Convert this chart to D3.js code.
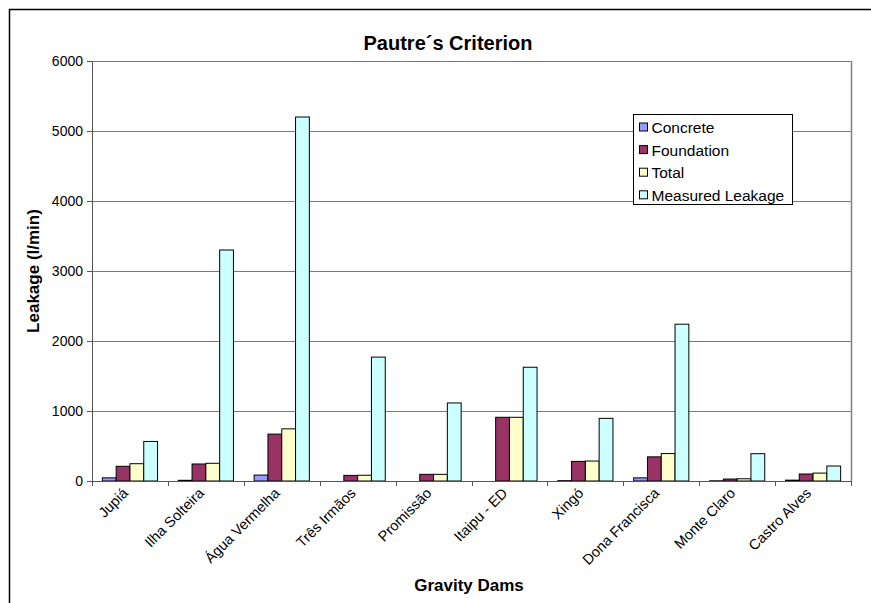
<!DOCTYPE html>
<html>
<head>
<meta charset="utf-8">
<script src="https://cdn.jsdelivr.net/npm/d3@7"></script>
<style>
  html, body { margin: 0; padding: 0; background: #fff; }
  svg { display: block; font-family: "Liberation Sans", Arial, sans-serif; }
</style>
</head>
<body>
<svg id="chart" width="871" height="603"></svg>
<script>
// Gravity dams and their leakage estimates (l/min)
const dams = ["Jupiá", "Ilha Solteira", "Água Vermelha", "Três Irmãos", "Promissão",
              "Itaipu - ED", "Xingó", "Dona Francisca", "Monte Claro", "Castro Alves"];
const seriesNames = ["Concrete", "Foundation", "Total", "Measured Leakage"];
const concrete   = [45, 10, 85, 0, 0, 0, 5, 45, 3, 12];
const foundation = [210, 243, 670, 80, 95, 910, 280, 345, 28, 100];
const total      = [247, 253, 745, 82, 95, 910, 285, 392, 32, 113];
const measured   = [565, 3300, 5200, 1770, 1115, 1625, 895, 2240, 390, 214];
const yTicks = [0, 1000, 2000, 3000, 4000, 5000, 6000];
const colors = ["#9999FF", "#993366", "#FFFFCC", "#CCFFFF"];

const series = [concrete, foundation, total, measured];

const svg = d3.select("#chart");
const plot = { left: 92, right: 851, top: 61, bottom: 481 };

// Outer chart frame
svg.append("rect")
  .attr("x", 9.5).attr("y", 9.5)
  .attr("width", 900).attr("height", 640)
  .attr("fill", "#fff").attr("stroke", "#000").attr("stroke-width", 1.5);

const x0 = d3.scaleBand().domain(dams).range([plot.left, plot.right]).paddingInner(0).paddingOuter(0);
// Gap between clusters equals 1.5 bar widths
const bw = x0.bandwidth() / 5.5;
const x1 = d3.scaleBand().domain(seriesNames)
  .range([bw * 0.75, bw * 4.75]).padding(0);
const y = d3.scaleLinear().domain([0, 6000]).range([plot.bottom, plot.top]);

// Horizontal gridlines
svg.append("g").selectAll("line")
  .data(yTicks.filter(d => d > 0))
  .join("line")
  .attr("x1", plot.left).attr("x2", plot.right)
  .attr("y1", d => Math.round(y(d)) + 0.5).attr("y2", d => Math.round(y(d)) + 0.5)
  .attr("stroke", "#7a7a7a").attr("stroke-width", 1.2);

// Right border of plot area
svg.append("line")
  .attr("x1", plot.right + 0.5).attr("x2", plot.right + 0.5)
  .attr("y1", plot.top).attr("y2", plot.bottom)
  .attr("stroke", "#808080").attr("stroke-width", 1.5);

// Bars
const groups = svg.append("g").selectAll("g")
  .data(dams)
  .join("g")
  .attr("transform", d => `translate(${x0(d)},0)`);

groups.selectAll("rect")
  .data((d, i) => series.map((s, k) => ({ key: seriesNames[k], value: s[i], k })))
  .join("rect")
  .attr("x", d => x1(d.key))
  .attr("width", x1.bandwidth())
  .attr("y", d => y(d.value))
  .attr("height", d => y(0) - y(d.value))
  .attr("fill", d => colors[d.k])
  .attr("stroke", "#000")
  .attr("stroke-width", d => d.value > 0 ? 1 : 0);

// Y axis
const yAxis = d3.axisLeft(y).tickValues(yTicks).tickSize(5).tickPadding(4).tickFormat(d3.format("d"));
const gy = svg.append("g").attr("transform", `translate(${plot.left},0)`).call(yAxis);
gy.select(".domain").attr("stroke", "#555");
gy.selectAll(".tick line").attr("stroke", "#555");
gy.selectAll(".tick text").attr("font-size", 14).attr("fill", "#000")
  .attr("font-family", "Liberation Sans, Arial, sans-serif");

// X axis with ticks at category boundaries
const gx = svg.append("g").attr("transform", `translate(0,${plot.bottom})`);
gx.append("line").attr("x1", plot.left).attr("x2", plot.right + 1)
  .attr("y1", 0.5).attr("y2", 0.5).attr("stroke", "#555");
gx.selectAll("line.tk")
  .data(d3.range(dams.length + 1))
  .join("line").attr("class", "tk")
  .attr("x1", i => Math.round(plot.left + i * x0.bandwidth()) + 0.5)
  .attr("x2", i => Math.round(plot.left + i * x0.bandwidth()) + 0.5)
  .attr("y1", 0).attr("y2", 5).attr("stroke", "#555");
gx.selectAll("text")
  .data(dams)
  .join("text")
  .attr("transform", d => `translate(${x0(d) + x0.bandwidth() / 2 - 1},${13}) rotate(-45)`)
  .attr("text-anchor", "end")
  .attr("font-size", 14.5)
  .text(d => d);

// Titles
svg.append("text").attr("x", 448).attr("y", 50)
  .attr("text-anchor", "middle").attr("font-weight", "bold").attr("font-size", 20)
  .text("Pautre´s Criterion");
svg.append("text").attr("x", 469).attr("y", 591)
  .attr("text-anchor", "middle").attr("font-weight", "bold").attr("font-size", 17)
  .text("Gravity Dams");
svg.append("text")
  .attr("transform", `translate(39,${(plot.top + plot.bottom) / 2}) rotate(-90)`)
  .attr("text-anchor", "middle").attr("font-weight", "bold").attr("font-size", 17)
  .text("Leakage (l/min)");

// Legend
const lg = svg.append("g").attr("transform", "translate(633.5,114.5)");
lg.append("rect").attr("width", 159).attr("height", 90)
  .attr("fill", "#fff").attr("stroke", "#000").attr("stroke-width", 1);
const items = lg.selectAll("g.item").data(seriesNames).join("g").attr("class", "item")
  .attr("transform", (d, i) => `translate(6,${13 + i * 22.6})`);
items.append("rect").attr("x", 0).attr("y", -4.5).attr("width", 8).attr("height", 8)
  .attr("fill", (d, i) => colors[i]).attr("stroke", "#000").attr("stroke-width", 1);
items.append("text").attr("x", 12).attr("y", 5.5).attr("font-size", 15.5).text(d => d);
</script>
</body>
</html>
